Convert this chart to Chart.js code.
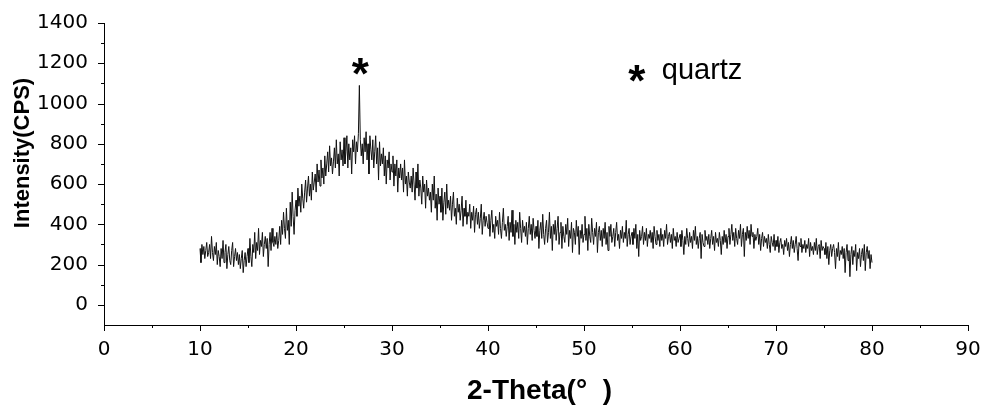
<!DOCTYPE html>
<html>
<head>
<meta charset="utf-8">
<script src="https://cdn.jsdelivr.net/npm/chart.js@4.4.1/dist/chart.umd.min.js"></script>
<style>
  html, body { margin: 0; padding: 0; background: #fff; }
  #wrap { width: 983px; height: 407px; }
</style>
</head>
<body>
<div id="wrap"><canvas id="xrd"></canvas></div>
<script>
// scan settings (degrees 2-theta)
const scanStart = 10;
const scanStep = 0.1;

// intensity, one row per degree
const intensity = [
  280, 210, 300, 250, 290, 230, 270, 310, 240, 260,
  300, 230, 340, 260, 220, 290, 250, 310, 200, 270,
  240, 190, 280, 230, 320, 210, 260, 300, 180, 250,
  290, 220, 200, 270, 310, 190, 240, 280, 220, 260,
  200, 250, 180, 230, 270, 160, 220, 260, 190, 240,
  280, 210, 330, 240, 190, 300, 260, 360, 230, 310,
  270, 380, 250, 320, 290, 360, 240, 300, 340, 280,
  330, 190, 300, 360, 270, 380, 310, 290, 340, 300,
  360, 280, 320, 390, 300, 420, 350, 460, 380, 330,
  480, 370, 420, 300, 510, 390, 560, 440, 350, 470,
  520, 440, 580, 490, 540, 460, 600, 530, 480, 560,
  620, 510, 580, 640, 540, 600, 520, 660, 570, 610,
  650, 560, 700, 610, 670, 590, 720, 630, 680, 600,
  740, 640, 700, 760, 660, 790, 690, 730, 650, 710,
  780, 680, 820, 700, 750, 640, 810, 720, 770, 690,
  830, 700, 760, 840, 680, 800, 720, 780, 650, 820,
  760, 840, 700, 810, 760, 850, 1090, 820, 740, 800,
  700, 830, 760, 860, 720, 800, 650, 840, 770, 720,
  820, 680, 760, 840, 700, 780, 620, 810, 690, 750,
  700, 780, 640, 740, 600, 720, 680, 760, 620, 700,
  660, 740, 590, 700, 640, 720, 560, 680, 630, 700,
  620, 680, 560, 720, 600, 640, 540, 660, 610, 580,
  640, 560, 680, 600, 520, 660, 580, 700, 540, 620,
  580, 500, 640, 560, 600, 480, 620, 540, 580, 520,
  560, 460, 600, 520, 640, 480, 550, 420, 580, 500,
  540, 460, 580, 420, 510, 560, 450, 600, 480, 520,
  470, 540, 420, 500, 560, 440, 480, 400, 530, 460,
  500, 420, 470, 540, 390, 480, 440, 520, 400, 460,
  440, 500, 380, 460, 420, 490, 360, 450, 480, 400,
  460, 380, 430, 500, 350, 420, 460, 390, 440, 410,
  380, 450, 340, 420, 470, 360, 400, 330, 440, 390,
  420, 350, 460, 380, 330, 410, 480, 370, 400, 340,
  390, 440, 320, 410, 360, 470, 340, 400, 300, 420,
  360, 410, 330, 460, 380, 310, 420, 360, 390, 340,
  410, 300, 380, 440, 350, 400, 320, 430, 370, 330,
  390, 340, 420, 280, 370, 410, 330, 450, 350, 300,
  380, 420, 310, 360, 460, 330, 390, 270, 400, 350,
  420, 320, 380, 440, 300, 360, 410, 280, 390, 340,
  310, 400, 350, 430, 290, 370, 330, 410, 260, 380,
  360, 300, 420, 340, 390, 250, 370, 330, 400, 310,
  350, 440, 320, 380, 270, 400, 340, 310, 430, 360,
  300, 380, 340, 410, 260, 360, 390, 320, 370, 290,
  380, 330, 410, 300, 360, 270, 390, 340, 400, 310,
  340, 380, 290, 360, 410, 320, 350, 280, 370, 330,
  390, 310, 360, 330, 420, 290, 350, 380, 300, 340,
  360, 300, 380, 330, 400, 280, 350, 240, 370, 320,
  340, 390, 300, 360, 320, 380, 290, 350, 330, 370,
  310, 360, 280, 390, 340, 300, 370, 320, 350, 290,
  380, 320, 350, 290, 370, 330, 400, 300, 340, 360,
  310, 350, 280, 380, 320, 340, 290, 360, 310, 330,
  350, 290, 370, 320, 250, 340, 300, 380, 330, 290,
  360, 310, 340, 280, 370, 320, 390, 300, 340, 280,
  330, 360, 230, 350, 310, 290, 370, 320, 340, 300,
  350, 280, 330, 370, 300, 340, 270, 360, 310, 330,
  290, 360, 320, 250, 340, 300, 370, 310, 350, 280,
  340, 380, 300, 350, 400, 320, 360, 290, 380, 330,
  300, 370, 330, 400, 290, 350, 380, 240, 360, 320,
  390, 330, 370, 300, 400, 340, 360, 280, 350, 320,
  340, 380, 300, 350, 270, 330, 360, 290, 340, 310,
  330, 280, 350, 300, 260, 340, 310, 290, 350, 270,
  320, 290, 340, 260, 310, 330, 280, 300, 250, 320,
  290, 330, 270, 310, 240, 300, 340, 280, 320, 260,
  300, 340, 280, 220, 310, 290, 330, 260, 300, 280,
  320, 260, 300, 280, 330, 240, 310, 270, 290, 250,
  310, 270, 330, 250, 290, 300, 230, 320, 270, 290,
  280, 250, 310, 230, 290, 200, 270, 300, 240, 280,
  300, 260, 180, 280, 240, 310, 220, 270, 250, 290,
  230, 280, 160, 260, 300, 220, 270, 140, 250, 290,
  200, 270, 240, 300, 170, 260, 230, 280, 190, 250,
  280, 220, 300, 170, 260, 290, 230, 270, 180, 250,
  210
];

const twoTheta = intensity.map((_, i) => +(scanStart + i * scanStep).toFixed(1));

// quartz reflection marked with a star
const quartzPeaks = [26.6];
const starLevel = 1170;

// axis ranges and tick steps
const xRange = [0, 90];
const yRange = [-100, 1400];
const xMinorStep = 5;
const yMinorStep = 100;

const points = twoTheta.map((t, i) => ({ x: t, y: intensity[i] }));

const fontFamily = '"Liberation Sans", Arial, sans-serif';
const tickFamily = '"DejaVu Sans", sans-serif';

// minor / major tick marks and text labels
const decor = {
  id: "decor",
  afterDraw(chart) {
    const { ctx, chartArea, scales } = chart;
    const x = scales.x, y = scales.y;
    ctx.save();
    ctx.strokeStyle = "#000";
    ctx.lineWidth = 1;
    x.ticks.forEach((t) => {
      const px = Math.round(x.getPixelForValue(t.value)) + 0.5;
      const len = t.value % 10 === 0 ? 6 : 3;
      ctx.beginPath();
      ctx.moveTo(px, chartArea.bottom);
      ctx.lineTo(px, chartArea.bottom + len);
      ctx.stroke();
    });
    y.ticks.forEach((t) => {
      if (t.value === yRange[0]) return;
      const py = Math.round(y.getPixelForValue(t.value)) + 0.5;
      const len = t.value % 200 === 0 ? 6 : 3;
      ctx.beginPath();
      ctx.moveTo(chartArea.left, py);
      ctx.lineTo(chartArea.left - len, py);
      ctx.stroke();
    });

    ctx.fillStyle = "#000";
    // axis titles
    ctx.font = "bold 28px " + fontFamily;
    ctx.textAlign = "left";
    ctx.textBaseline = "alphabetic";
    ctx.fillText("2-Theta(\u00B0  )", 467, 399);

    ctx.save();
    ctx.translate(29, 153);
    ctx.rotate(-Math.PI / 2);
    ctx.textAlign = "center";
    ctx.font = "bold 22px " + fontFamily;
    ctx.fillText("Intensity(CPS)", 0, 0);
    ctx.restore();

    // star over quartz peak
    ctx.textAlign = "center";
    ctx.font = "bold 44px " + fontFamily;
    ctx.textBaseline = "middle";
    quartzPeaks.forEach((p) => {
      ctx.fillText("*", x.getPixelForValue(p) + 1, y.getPixelForValue(starLevel) + 8);
    });

    // legend
    ctx.fillText("*", x.getPixelForValue(55.5), y.getPixelForValue(1140) + 9);
    ctx.font = "29px " + fontFamily;
    ctx.textAlign = "left";
    ctx.textBaseline = "alphabetic";
    ctx.fillText("quartz", x.getPixelForValue(58.1), 79);
    ctx.restore();
  },
};

// invisible chart.js tick marks only reserve room between axis and labels
const hiddenTicks = (len) => ({
  display: true,
  drawOnChartArea: false,
  drawTicks: true,
  tickLength: len,
  tickColor: "rgba(0,0,0,0)",
});

new Chart(document.getElementById("xrd"), {
  type: "line",
  data: {
    datasets: [
      {
        data: points,
        borderColor: "#111",
        borderWidth: 1,
        pointRadius: 0,
        tension: 0,
        fill: false,
      },
    ],
  },
  options: {
    responsive: true,
    maintainAspectRatio: false,
    animation: false,
    parsing: false,
    layout: { padding: { top: 23, right: 15, left: 0, bottom: 0 } },
    plugins: {
      legend: { display: false },
      tooltip: { enabled: false },
    },
    scales: {
      x: {
        type: "linear",
        min: xRange[0],
        max: xRange[1],
        grid: hiddenTicks(11),
        border: { display: true, color: "#000", width: 1 },
        ticks: {
          stepSize: xMinorStep,
          autoSkip: false,
          maxRotation: 0,
          padding: 2,
          color: "#000",
          font: { family: tickFamily, size: 20 },
          callback: (v) => (v % 10 === 0 ? v : ""),
        },
        afterFit: (scale) => { scale.height = 82; },
      },
      y: {
        min: yRange[0],
        max: yRange[1],
        grid: hiddenTicks(14),
        border: { display: true, color: "#000", width: 1 },
        ticks: {
          stepSize: yMinorStep,
          autoSkip: false,
          padding: 2,
          color: "#000",
          font: { family: tickFamily, size: 20 },
          callback: (v) => (v % 200 === 0 ? v : ""),
        },
        afterFit: (scale) => { scale.width = 104; },
      },
    },
  },
  plugins: [decor],
});
</script>
</body>
</html>
